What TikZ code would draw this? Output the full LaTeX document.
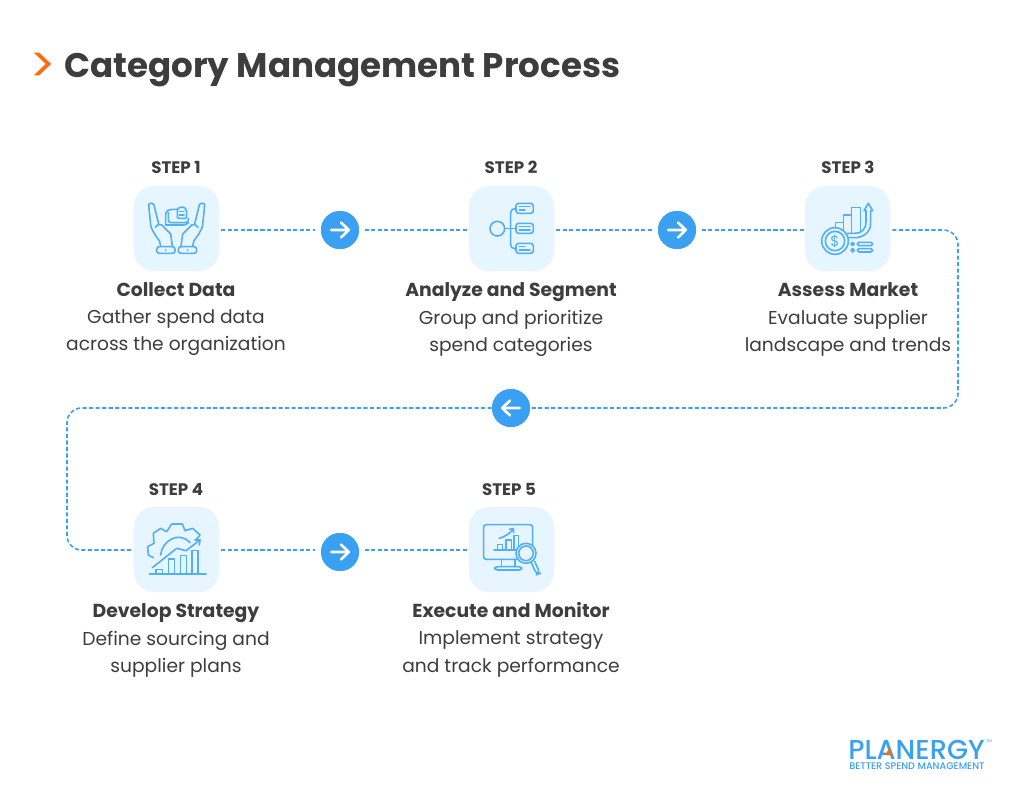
\documentclass[tikz,border=0pt]{standalone}
\usepackage{fontspec}
\setmainfont{Poppins}
\newfontfamily\logofont{Poppins Medium}
\usetikzlibrary{arrows.meta}
\definecolor{ink}{HTML}{3D3D3D}
\definecolor{tilefill}{HTML}{E6F5FF}
\definecolor{iconblue}{HTML}{4FB0F7}
\definecolor{flowblue}{HTML}{3AA0F2}
\definecolor{accent}{HTML}{FF6A13}
\tikzset{
  tile/.style={draw=none,fill=tilefill,rounded corners=15pt,minimum width=63.75pt,minimum height=63.75pt,inner sep=0pt},
  hop/.style={circle,fill=flowblue,minimum size=28.5pt,inner sep=0pt},
  flow/.style={draw=flowblue,line width=1.2pt,dash pattern=on 3.1pt off 1.8pt},
  stepnum/.style={font=\fontsize{12.5}{14}\selectfont\bfseries,text=ink,anchor=base},
  headtxt/.style={font=\fontsize{14.1}{16}\selectfont\bfseries,text=ink,anchor=base},
  bodytxt/.style={font=\fontsize{14}{20.3}\selectfont,text=ink,align=center,anchor=center},
  ico/.style={draw=iconblue,line width=1.2pt,line join=round,line cap=round},
  zm/.style={x=0.25pt,y=-0.25pt},
}
\newcommand{\hoparrow}[2]{\draw[white,line width=2pt,line cap=round,line join=round] ([xshift=#2*-6.6pt]#1.center) -- ([xshift=#2*6.6pt]#1.center) ([xshift=#2*0.8pt,yshift=5.6pt]#1.center) -- ([xshift=#2*6.6pt]#1.center) -- ([xshift=#2*0.8pt,yshift=-5.6pt]#1.center);}
\begin{document}
\begin{tikzpicture}[x=0.75pt,y=-0.75pt]
\useasboundingbox (0,0) rectangle (1024,800);
\fill[white] (0,0) rectangle (1024,800);
% title
\node[font=\fontsize{37}{40}\selectfont,text=accent,anchor=center,inner sep=0pt] (chev) at (43,68) {>};
\node[font=\fontsize{25.6}{30}\selectfont\bfseries,text=ink,anchor=west,inner sep=0pt] (title) at (64,70) {Category Management Process};
% tiles
\node[tile] (t1) at (176.5,228.5) {};
\node[tile] (t2) at (511.5,228.5) {};
\node[tile] (t3) at (847.5,228.5) {};
\node[tile] (t4) at (176.5,549.5) {};
\node[tile] (t5) at (511.5,549.5) {};
% hops
\node[hop] (a1) at (340,230) {};
\node[hop] (a2) at (677,230) {};
\node[hop] (a3) at (511,408) {};
\node[hop] (a4) at (340,552) {};
\coordinate (ne) at (958,230);
\coordinate (se) at (958,408);
\coordinate (nw) at (67,408);
\coordinate (sw) at (67,550);
% connectors
\draw[flow,shorten <=1.5pt,shorten >=4pt] (t1.east |- a1) -- (a1);
\draw[flow,shorten <=4pt] (a1) -- (t2.west |- a1);
\draw[flow,shorten <=1.5pt,shorten >=4pt] (t2.east |- a2) -- (a2);
\draw[flow,shorten <=4pt] (a2) -- (t3.west |- a2);
\draw[flow,shorten <=1.5pt,rounded corners=11pt] (t3.east |- ne) -- (ne) -- (se) -- (a3);
\draw[flow,rounded corners=11pt] (a3) -- (nw) -- (sw) -- (t4.west |- sw);
\draw[flow,shorten <=1.5pt,shorten >=4pt] (t4.east |- sw) -- (a4.west |- sw);
\draw[flow,shorten <=4pt] (a4.east |- sw) -- (t5.west |- sw);
\fill[flowblue] (a1) circle (14.25pt) (a2) circle (14.25pt) (a3) circle (14.25pt) (a4) circle (14.25pt);
\hoparrow{a1}{1}
\hoparrow{a2}{1}
\hoparrow{a3}{-1}
\hoparrow{a4}{1}
% icon 1
\begin{scope}[shift={(120,150)},zm]
\draw[ico] (86,165) .. controls (86,158) and (100,158) .. (102,165) -- (116,222);
\draw[ico] (86,165) -- (92,225) .. controls (94,240) and (112,265) .. (118,272) -- (122,288);
\draw[ico] (106,232) .. controls (112,222) and (124,220) .. (130,230) -- (152,252) -- (157,288);
\draw[ico,rounded corners=2pt] (110,290) rectangle (165,310);
\fill[iconblue] (137,300) circle (3);
\draw[ico] (254,165) .. controls (254,158) and (240,158) .. (238,165) -- (224,222);
\draw[ico] (254,165) -- (248,225) .. controls (246,240) and (228,265) .. (222,272) -- (218,288);
\draw[ico] (234,232) .. controls (228,222) and (216,220) .. (210,230) -- (188,252) -- (183,288);
\draw[ico,rounded corners=2pt] (175,290) rectangle (230,310);
\fill[iconblue] (203,300) circle (3);
\draw[ico,rounded corners=2pt] (137,225) -- (137,185) -- (150,178) -- (172,178);
\draw[ico,rounded corners=2pt] (145,188) -- (145,218) -- (205,218) -- (205,205);
\draw[ico,rounded corners=2pt] (137,225) -- (198,225) -- (205,218);
\draw[ico,rounded corners=1pt] (172,205) -- (172,175) -- (190,170) -- (200,180) -- (200,205) -- cycle;
\draw[ico] (178,185) -- (192,185) (178,195) -- (192,195);
\end{scope}
% icon 2
\begin{scope}[shift={(460,180)},zm]
\draw[ico] (112,146) circle (22);
\draw[ico] (134,146) -- (168,146);
\draw[ico,rounded corners=3pt] (168,86) -- (152,86) -- (152,206) -- (168,206);
\foreach \yy in {70,130,190}{
  \draw[ico,rounded corners=2pt] (168,\yy) rectangle (220,\yy+30);
}
\draw[ico] (178,80) -- (210,80) (178,90) -- (195,90);
\draw[ico] (178,140) -- (210,140) (178,150) -- (210,150);
\draw[ico] (178,200) -- (195,200) (178,210) -- (210,210);
\end{scope}
% icon 3
\begin{scope}[shift={(790,180)},zm]
\draw[ico] (137,145) -- (137,128) -- (160,128);
\draw[ico] (160,160) -- (160,105) -- (185,105) -- (185,160);
\draw[ico] (185,105) -- (185,82) -- (212,82) -- (212,158);
\draw[ico] (228,92) -- (228,125) .. controls (228,150) and (212,160) .. (195,160) -- (172,160);
\draw[ico] (242,92) -- (242,130) .. controls (242,160) and (215,173) .. (195,173) -- (175,173);
\draw[ico] (228,92) -- (222,92) -- (235,70) -- (248,92) -- (242,92);
\draw[ico,fill=tilefill] (135,183) circle (40);
\draw[ico] (135,183) circle (29);
\node[font=\fontsize{11}{11}\selectfont,text=iconblue,inner sep=0pt] (dollar) at (135,183) {\$};
\draw[ico] (188,192) circle (5) (188,211) circle (5);
\draw[ico,rounded corners=1.2pt] (202,187) rectangle (248,197);
\draw[ico,rounded corners=1.2pt] (202,206) rectangle (248,216);
\end{scope}
% icon 4
\begin{scope}[shift={(120,500)},zm]
\draw[ico] (100,173) -- (85,165) -- (83,140) -- (102,130) -- (100,100) -- (122,85) -- (140,95) -- (155,72) -- (187,72) -- (195,92) -- (218,85) -- (240,105) -- (228,120);
\draw[ico] (122,165) .. controls (125,125) and (175,90) .. (210,128);
\draw[ico] (97,203) -- (170,145) -- (198,152) -- (240,120);
\draw[ico] (225,120) -- (240,120) -- (238,135);
\draw[ico] (108,222) -- (108,208) -- (127,208) -- (127,222);
\draw[ico] (145,222) -- (145,177) -- (163,177) -- (163,222);
\draw[ico] (181,222) -- (181,167) -- (199,167) -- (199,222);
\draw[ico] (216,222) -- (216,152) -- (234,152) -- (234,222);
\draw[ico] (88,222) -- (258,222);
\end{scope}
% icon 5
\begin{scope}[shift={(460,500)},zm]
\draw[ico,rounded corners=2pt] (71,74) rectangle (218,178);
\draw[ico] (125,178) -- (125,200) (165,178) -- (165,200);
\draw[ico,rounded corners=2pt] (105,200) rectangle (185,210);
\draw[ico] (102,150) -- (172,150);
\draw[ico] (112,150) -- (112,134) -- (128,134) -- (128,150);
\draw[ico] (138,150) -- (138,120) -- (154,120) -- (154,150);
\draw[ico] (162,150) -- (162,106) -- (176,106) -- (176,150);
\draw[ico] (118,115) .. controls (135,110) and (150,100) .. (160,88);
\draw[ico] (148,88) -- (160,86) -- (161,98);
\draw[ico,fill=tilefill] (198,160) circle (30);
\draw[ico] (198,160) circle (22);
\draw[ico,rounded corners=3pt] (214,188) -- (230,224) -- (240,220) -- (224,184);
\end{scope}
% labels
\node[stepnum] (s1) at (176,173) {STEP 1};
\node[stepnum] (s2) at (511,173) {STEP 2};
\node[stepnum] (s3) at (848,173) {STEP 3};
\node[stepnum] (s4) at (176,495) {STEP 4};
\node[stepnum] (s5) at (509,495) {STEP 5};
\node[headtxt] (h1) at (176,296) {Collect Data};
\node[headtxt] (h2) at (511,296) {Analyze and Segment};
\node[headtxt] (h3) at (848,296) {Assess Market};
\node[headtxt] (h4) at (176,617) {Develop Strategy};
\node[headtxt] (h5) at (511,617) {Execute and Monitor};
\node[bodytxt] (b1) at (176,333) {Gather spend data\\across the organization};
\node[bodytxt] (b2) at (511,333) {Group and prioritize\\spend categories};
\node[bodytxt] (b3) at (848,333) {Evaluate supplier\\landscape and trends};
\node[bodytxt] (b4) at (176,654) {Define sourcing and\\supplier plans};
\node[bodytxt] (b5) at (511,654) {Implement strategy\\and track performance};
% logo
\node[font=\logofont\fontsize{20.5}{22}\selectfont,text=flowblue,anchor=base west,inner sep=0pt,text depth=0pt] (logo) at (848,759) {PLANERGY};
\fill[accent] (885.5,755) -- (889,748) -- (892.5,755) -- cycle;
\node[font=\logofont\fontsize{7.2}{7}\selectfont,text=flowblue,anchor=base west,inner sep=0pt,text height=5pt,text depth=0pt] (tag) at (849,769) {BETTER SPEND MANAGEMENT};
\node[font=\fontsize{3}{3}\selectfont,text=flowblue,inner sep=0pt] (tm) at (989,741) {TM};
\end{tikzpicture}
\end{document}
